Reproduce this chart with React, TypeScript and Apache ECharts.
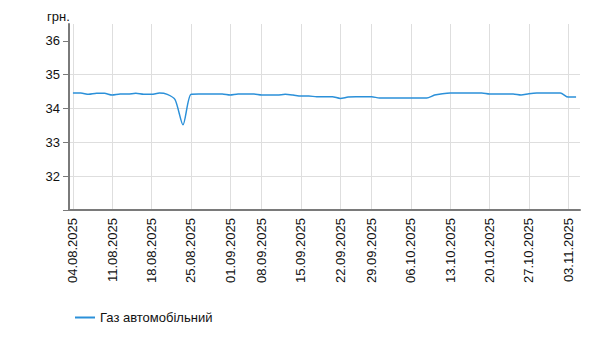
import React, { useEffect, useRef } from "react";
import * as echarts from "echarts";

const dates: string[] = [
  "04.08.2025", "05.08.2025", "06.08.2025", "07.08.2025", "08.08.2025",
  "11.08.2025", "12.08.2025", "13.08.2025", "14.08.2025", "15.08.2025",
  "18.08.2025", "19.08.2025", "20.08.2025", "21.08.2025", "22.08.2025",
  "25.08.2025", "26.08.2025", "27.08.2025", "28.08.2025", "29.08.2025",
  "01.09.2025", "02.09.2025", "04.09.2025", "05.09.2025",
  "08.09.2025", "09.09.2025", "10.09.2025", "11.09.2025", "12.09.2025",
  "15.09.2025", "16.09.2025", "17.09.2025", "18.09.2025", "19.09.2025",
  "22.09.2025", "23.09.2025", "25.09.2025", "26.09.2025",
  "29.09.2025", "30.09.2025", "01.10.2025", "02.10.2025", "03.10.2025",
  "06.10.2025", "07.10.2025", "08.10.2025", "09.10.2025", "10.10.2025",
  "13.10.2025", "14.10.2025", "15.10.2025", "16.10.2025", "17.10.2025",
  "20.10.2025", "21.10.2025", "22.10.2025", "23.10.2025", "24.10.2025",
  "27.10.2025", "28.10.2025", "29.10.2025", "30.10.2025", "31.10.2025",
  "03.11.2025", "04.11.2025",
];

const gasPrices: number[] = [
  34.46, 34.46, 34.42, 34.45, 34.45,
  34.40, 34.43, 34.43, 34.45, 34.42,
  34.42, 34.46, 34.42, 34.26, 33.52,
  34.42, 34.43, 34.43, 34.43, 34.43,
  34.40, 34.43, 34.43, 34.43,
  34.40, 34.40, 34.40, 34.42, 34.40,
  34.37, 34.37, 34.35, 34.35, 34.35,
  34.30, 34.34, 34.35, 34.35,
  34.35, 34.31, 34.31, 34.31, 34.31,
  34.31, 34.31, 34.31, 34.40, 34.44,
  34.46, 34.46, 34.46, 34.46, 34.46,
  34.43, 34.43, 34.43, 34.43, 34.40,
  34.44, 34.46, 34.46, 34.46, 34.46,
  34.34, 34.34,
];

const tickDates: string[] = [
  "04.08.2025", "11.08.2025", "18.08.2025", "25.08.2025", "01.09.2025",
  "08.09.2025", "15.09.2025", "22.09.2025", "29.09.2025", "06.10.2025",
  "13.10.2025", "20.10.2025", "27.10.2025", "03.11.2025",
];

const yTickValues: number[] = [31, 32, 33, 34, 35, 36];
const yLabelValues: number[] = [32, 33, 34, 35, 36];

const seriesName = "Газ автомобільний";
const unitLabel = "грн.";

const FONT = "'Liberation Sans', Arial, sans-serif";

export default function App() {
  const ref = useRef<HTMLDivElement>(null);

  useEffect(() => {
    if (!ref.current) return;
    const chart = echarts.init(ref.current, undefined, { renderer: "svg" });
    const isTick = (idx: number, val: string) => tickDates.includes(val ?? dates[idx]);
    chart.setOption({
      animation: false,
      textStyle: { fontFamily: FONT },
      title: {
        text: unitLabel,
        left: 42,
        top: 5,
        textStyle: { fontFamily: FONT, fontSize: 13, fontWeight: "normal", color: "#111" },
      },
      legend: {
        left: 70,
        top: 306,
        icon: "rect",
        itemWidth: 20,
        itemHeight: 2,
        itemGap: 10,
        textStyle: { fontFamily: FONT, fontSize: 13, color: "#111" },
        data: [seriesName],
      },
      grid: { left: 69, right: 34, top: 24, bottom: 150, containLabel: false },
      xAxis: {
        type: "category",
        data: dates,
        boundaryGap: true,
        axisLine: { lineStyle: { color: "#7a7a7a", width: 2 } },
        axisTick: {
          interval: (i: number, v: string) => isTick(i, v),
          alignWithLabel: true,
          length: 5,
          lineStyle: { color: "#7a7a7a", width: 1 },
        },
        axisLabel: {
          interval: (i: number, v: string) => isTick(i, v),
          rotate: 90,
          margin: 8,
          fontFamily: FONT,
          fontSize: 13,
          color: "#111",
        },
        splitLine: {
          show: true,
          interval: (i: number, v: string) => isTick(i, v),
          alignWithLabel: true,
          lineStyle: { color: "#dedede", width: 1 },
        },
      },
      yAxis: {
        type: "value",
        min: 31,
        max: 36.5,
        interval: 1,
        axisLine: { show: true, lineStyle: { color: "#7a7a7a", width: 2 } },
        axisTick: {
          show: true,
          length: 6,
          customValues: yTickValues,
          lineStyle: { color: "#7a7a7a", width: 1 },
        },
        axisLabel: {
          customValues: yLabelValues,
          margin: 9,
          fontFamily: FONT,
          fontSize: 13,
          color: "#111",
        },
        splitLine: {
          show: true,
          showMaxLine: false,
          showMinLine: false,
          lineStyle: { color: "#dedede", width: 1 },
        },
      },
      series: [
        {
          name: seriesName,
          type: "line",
          data: gasPrices,
          smooth: 0.25,
          symbol: "none",
          lineStyle: { color: "#2b90d9", width: 1.5 },
          itemStyle: { color: "#2b90d9" },
        },
      ],
    });
    return () => chart.dispose();
  }, []);

  return <div ref={ref} style={{ width: 614, height: 360, margin: -8 }} />;
}
